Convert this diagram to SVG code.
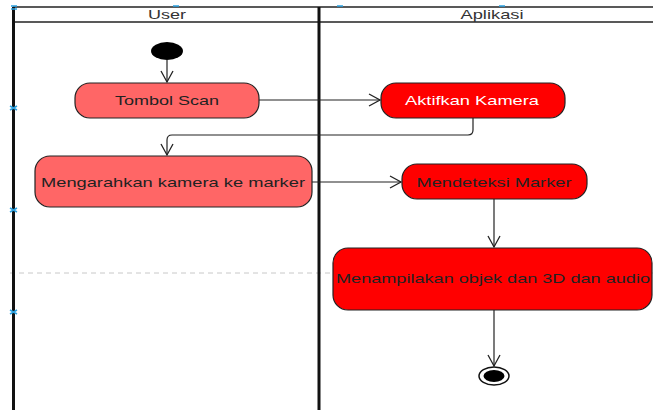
<svg xmlns="http://www.w3.org/2000/svg" width="653" height="410" viewBox="0 0 653 410">
<defs>
<marker id="open" markerUnits="userSpaceOnUse" markerWidth="14" markerHeight="14" refX="12" refY="7" orient="auto">
<path d="M1,1 L12,7 L1,13" fill="none" stroke="#222" stroke-width="1.3"/>
</marker>
</defs>
<style>
.lane{stroke:#111;stroke-width:3;fill:none}
.hdr{stroke:#222;stroke-width:1.5;fill:none}
.t{font-family:"Liberation Sans",Arial,sans-serif;font-size:13px;text-anchor:middle}
.act{stroke:#222;stroke-width:1.2}
.user{fill:#ff6666}
.app{fill:#ff0000}
.edge{fill:none;stroke:#222;stroke-width:1.2;marker-end:url(#open)}
.hnd{fill:none;stroke:#2aa0e0;stroke-width:1.5}
</style>
<rect width="653" height="410" fill="#fff"/>
<g id="swimlanes">
<line x1="10" y1="273" x2="653" y2="273" stroke="#c8c8c8" stroke-width="1" stroke-dasharray="5,4"/>
<line class="hdr" x1="13" y1="7" x2="653" y2="7"/>
<line class="hdr" x1="13" y1="22" x2="653" y2="22" stroke-width="2"/>
<line class="lane" x1="13.5" y1="7" x2="13.5" y2="410"/>
<line class="lane" x1="319" y1="7" x2="319" y2="410"/>
<text class="t" x="167" y="19" fill="#333" textLength="38" lengthAdjust="spacingAndGlyphs">User</text>
<text class="t" x="492" y="19" fill="#333" textLength="63" lengthAdjust="spacingAndGlyphs">Aplikasi</text>
</g>
<g id="handles">
<path class="hnd" d="M11,6 L17,6 M11,9 L17,9"/>
<path class="hnd" d="M173,6 L179,6"/>
<path class="hnd" d="M337,6 L343,6"/>
<path class="hnd" d="M499,6 L505,6"/>
<path class="hnd" d="M10,106 L17,110 M10,110 L17,106"/>
<path class="hnd" d="M10,208 L17,212 M10,212 L17,208"/>
<path class="hnd" d="M10,310 L17,314 M10,314 L17,310"/>
</g>
<g id="connectors">
<line class="edge" x1="167" y1="60" x2="167" y2="82"/>
<line class="edge" x1="259" y1="100" x2="380" y2="100"/>
<path class="edge" d="M473,118 L473,130 Q473,135 468,135 L172,135 Q167,135 167,140 L167,155"/>
<line class="edge" x1="312" y1="182" x2="401" y2="182"/>
<line class="edge" x1="494" y1="199" x2="494" y2="247"/>
<line class="edge" x1="494" y1="310" x2="494" y2="366"/>
</g>
<g id="start">
<ellipse cx="167" cy="51" rx="16" ry="9" fill="#000"/>
</g>
<g id="tombol-scan">
<rect class="act user" x="75" y="83" width="184" height="35" rx="15" ry="15"/>
<text class="t" x="167" y="105" fill="#222" textLength="104" lengthAdjust="spacingAndGlyphs">Tombol Scan</text>
</g>
<g id="aktifkan-kamera">
<rect class="act app" x="381" y="83" width="184" height="35" rx="15" ry="15"/>
<text class="t" x="472" y="105" fill="#fff" textLength="134" lengthAdjust="spacingAndGlyphs">Aktifkan Kamera</text>
</g>
<g id="mengarahkan">
<rect class="act user" x="35" y="156" width="277" height="51" rx="15" ry="15"/>
<text class="t" x="173" y="187" fill="#222" textLength="264" lengthAdjust="spacingAndGlyphs">Mengarahkan kamera ke marker</text>
</g>
<g id="mendeteksi">
<rect class="act app" x="402" y="164" width="185" height="35" rx="15" ry="15"/>
<text class="t" x="494" y="187" fill="#222" textLength="155" lengthAdjust="spacingAndGlyphs">Mendeteksi Marker</text>
</g>
<g id="menampilkan">
<rect class="act app" x="333" y="248" width="319" height="62" rx="15" ry="15"/>
<text class="t" x="493" y="283" fill="#222" textLength="314" lengthAdjust="spacingAndGlyphs">Menampilakan objek dan 3D dan audio</text>
</g>
<g id="end">
<ellipse cx="494" cy="376" rx="15" ry="9" fill="#fff" stroke="#111" stroke-width="1.5"/>
<ellipse cx="494" cy="376" rx="10.5" ry="6" fill="#000"/>
</g>
</svg>
